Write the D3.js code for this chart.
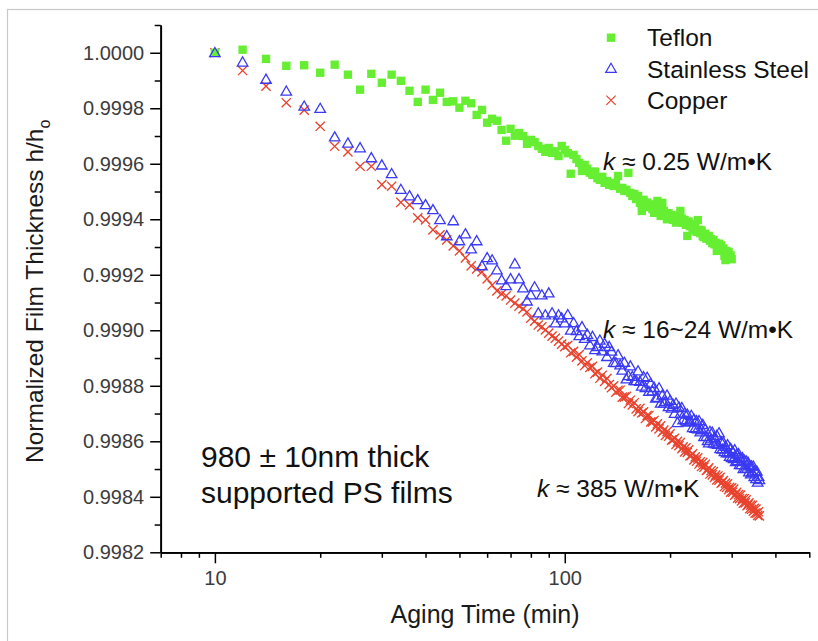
<!DOCTYPE html>
<html>
<head>
<meta charset="utf-8">
<script src="https://cdn.jsdelivr.net/npm/d3@7"></script>
<style>
  body { margin: 0; background: #ffffff; }
  svg { display: block; font-family: Arial, "Liberation Sans", sans-serif; }
</style>
</head>
<body>
<svg id="chart" width="818" height="641"></svg>
<script>

//// DATA

// Aging time (min), one point every 2 minutes
var agingTime = [
  10, 12, 14, 16, 18, 20, 22, 24, 26, 28, 30, 32, 34, 36, 38, 40, 42, 44, 46, 48,
  50, 52, 54, 56, 58, 60, 62, 64, 66, 68, 70, 72, 74, 76, 78, 80, 82, 84, 86, 88,
  90, 92, 94, 96, 98, 100, 102, 104, 106, 108, 110, 112, 114, 116, 118, 120, 122, 124, 126, 128,
  130, 132, 134, 136, 138, 140, 142, 144, 146, 148, 150, 152, 154, 156, 158, 160, 162, 164, 166, 168,
  170, 172, 174, 176, 178, 180, 182, 184, 186, 188, 190, 192, 194, 196, 198, 200, 202, 204, 206, 208,
  210, 212, 214, 216, 218, 220, 222, 224, 226, 228, 230, 232, 234, 236, 238, 240, 242, 244, 246, 248,
  250, 252, 254, 256, 258, 260, 262, 264, 266, 268, 270, 272, 274, 276, 278, 280, 282, 284, 286, 288,
  290, 292, 294, 296, 298, 300, 302, 304, 306, 308, 310, 312, 314, 316, 318, 320, 322, 324, 326, 328,
  330, 332, 334, 336, 338, 340, 342, 344, 346, 348, 350, 352, 354, 356, 358, 360
];

// Normalized thickness h/ho, Teflon substrate (10 to 300 min)
var teflon = [
  1.000000, 1.000011, 0.999978, 0.999953, 0.999955, 0.999928, 0.999957, 0.999921, 0.999867, 0.999924,
  0.999892, 0.999921, 0.999899, 0.999863, 0.999823, 0.999867, 0.999830, 0.999856, 0.999823, 0.999825,
  0.999802, 0.999827, 0.999818, 0.999776, 0.999794, 0.999748, 0.999762, 0.999755, 0.999722, 0.999683,
  0.999726, 0.999701, 0.999711, 0.999700, 0.999672, 0.999686, 0.999678, 0.999664, 0.999654, 0.999643,
  0.999657, 0.999639, 0.999645, 0.999628, 0.999664, 0.999650, 0.999638, 0.999564, 0.999632, 0.999617,
  0.999603, 0.999574, 0.999596, 0.999582, 0.999568, 0.999560, 0.999572, 0.999548, 0.999542, 0.999553,
  0.999531, 0.999538, 0.999524, 0.999530, 0.999520, 0.999531, 0.999556, 0.999510, 0.999513, 0.999502,
  0.999506, 0.999567, 0.999495, 0.999484, 0.999491, 0.999473, 0.999484, 0.999459, 0.999430, 0.999470,
  0.999448, 0.999460, 0.999444, 0.999452, 0.999437, 0.999423, 0.999455, 0.999466, 0.999440, 0.999412,
  0.999459, 0.999430, 0.999417, 0.999400, 0.999422, 0.999408, 0.999415, 0.999398, 0.999404, 0.999388,
  0.999412, 0.999394, 0.999430, 0.999402, 0.999387, 0.999398, 0.999380, 0.999340, 0.999392, 0.999375,
  0.999382, 0.999364, 0.999360, 0.999372, 0.999355, 0.999397, 0.999362, 0.999350, 0.999360, 0.999339,
  0.999336, 0.999348, 0.999330, 0.999333, 0.999340, 0.999323, 0.999328, 0.999314, 0.999325, 0.999310,
  0.999315, 0.999286, 0.999305, 0.999312, 0.999300, 0.999306, 0.999288, 0.999295, 0.999268, 0.999253,
  0.999286, 0.999275, 0.999282, 0.999265, 0.999270, 0.999256
];

// Stainless steel substrate (10 to 360 min)
var stainless = [
  1.000000, 0.999966, 0.999904, 0.999861, 0.999807, 0.999799, 0.999696, 0.999674, 0.999657, 0.999621,
  0.999595, 0.999564, 0.999507, 0.999484, 0.999470, 0.999452, 0.999434, 0.999398, 0.999340, 0.999394,
  0.999322, 0.999347, 0.999293, 0.999322, 0.999232, 0.999261, 0.999253, 0.999217, 0.999181, 0.999160,
  0.999185, 0.999239, 0.999185, 0.999152, 0.999105, 0.999127, 0.999156, 0.999062, 0.999127, 0.999055,
  0.999134, 0.999062, 0.999026, 0.999055, 0.999044, 0.999026, 0.999056, 0.999000, 0.999027, 0.998998,
  0.998980, 0.999012, 0.998970, 0.998985, 0.998947, 0.998977, 0.998930, 0.998941, 0.998964, 0.998925,
  0.998952, 0.998905, 0.998941, 0.998924, 0.998884, 0.998883, 0.998911, 0.998875, 0.998856, 0.998884,
  0.998824, 0.998836, 0.998871, 0.998833, 0.998818, 0.998818, 0.998853, 0.998815, 0.998798, 0.998832,
  0.998793, 0.998830, 0.998779, 0.998808, 0.998781, 0.998794, 0.998755, 0.998758, 0.998792, 0.998737,
  0.998766, 0.998737, 0.998743, 0.998766, 0.998724, 0.998747, 0.998719, 0.998732, 0.998700, 0.998737,
  0.998667, 0.998723, 0.998699, 0.998721, 0.998677, 0.998701, 0.998673, 0.998697, 0.998669, 0.998671,
  0.998693, 0.998649, 0.998679, 0.998646, 0.998674, 0.998644, 0.998674, 0.998633, 0.998641, 0.998660,
  0.998616, 0.998643, 0.998617, 0.998602, 0.998594, 0.998635, 0.998608, 0.998632, 0.998593, 0.998613,
  0.998590, 0.998621, 0.998588, 0.998630, 0.998573, 0.998598, 0.998571, 0.998596, 0.998562, 0.998581,
  0.998558, 0.998587, 0.998558, 0.998545, 0.998574, 0.998541, 0.998562, 0.998537, 0.998569, 0.998526,
  0.998553, 0.998530, 0.998555, 0.998515, 0.998538, 0.998515, 0.998540, 0.998501, 0.998531, 0.998502,
  0.998529, 0.998502, 0.998524, 0.998489, 0.998511, 0.998482, 0.998511, 0.998487, 0.998510, 0.998472,
  0.998493, 0.998465, 0.998492, 0.998452, 0.998473, 0.998461
];

// Copper substrate (10 to 360 min)
var copper = [
  1.000000, 0.999936, 0.999880, 0.999820, 0.999793, 0.999735, 0.999663, 0.999643, 0.999591, 0.999591,
  0.999525, 0.999519, 0.999461, 0.999452, 0.999405, 0.999398, 0.999362, 0.999344, 0.999326, 0.999304,
  0.999286, 0.999261, 0.999232, 0.999221, 0.999210, 0.999185, 0.999163, 0.999142, 0.999131, 0.999124,
  0.999109, 0.999098, 0.999087, 0.999077, 0.999066, 0.999044, 0.999033, 0.999019, 0.999012, 0.999001,
  0.998990, 0.998979, 0.998972, 0.998961, 0.998950, 0.998941, 0.998946, 0.998919, 0.998924, 0.998903,
  0.998912, 0.998890, 0.998873, 0.998883, 0.998866, 0.998870, 0.998844, 0.998849, 0.998827, 0.998838,
  0.998816, 0.998827, 0.998804, 0.998793, 0.998800, 0.998777, 0.998784, 0.998784, 0.998759, 0.998759,
  0.998762, 0.998736, 0.998748, 0.998731, 0.998739, 0.998717, 0.998707, 0.998719, 0.998702, 0.998706,
  0.998682, 0.998693, 0.998693, 0.998670, 0.998670, 0.998675, 0.998652, 0.998663, 0.998645, 0.998656,
  0.998633, 0.998640, 0.998621, 0.998635, 0.998618, 0.998627, 0.998604, 0.998606, 0.998611, 0.998589,
  0.998600, 0.998584, 0.998595, 0.998573, 0.998580, 0.998562, 0.998576, 0.998560, 0.998569, 0.998547,
  0.998549, 0.998555, 0.998533, 0.998544, 0.998528, 0.998540, 0.998518, 0.998526, 0.998509, 0.998523,
  0.998507, 0.998517, 0.998495, 0.998498, 0.998504, 0.998482, 0.998494, 0.998479, 0.998491, 0.998470,
  0.998478, 0.998461, 0.998475, 0.998460, 0.998470, 0.998449, 0.998452, 0.998458, 0.998437, 0.998449,
  0.998434, 0.998447, 0.998426, 0.998434, 0.998417, 0.998432, 0.998417, 0.998428, 0.998406, 0.998409,
  0.998416, 0.998395, 0.998408, 0.998393, 0.998406, 0.998385, 0.998394, 0.998377, 0.998393, 0.998378,
  0.998389, 0.998368, 0.998371, 0.998378, 0.998357, 0.998370, 0.998355, 0.998369, 0.998348, 0.998358,
  0.998341, 0.998356, 0.998341, 0.998333, 0.998346, 0.998331
];

// Series names, legend order
var seriesNames = ["Teflon", "Stainless Steel", "Copper"];

// Axis ticks
var yMajorTicks = [0.9982, 0.9984, 0.9986, 0.9988, 0.9990, 0.9992, 0.9994, 0.9996, 0.9998, 1.0000];
var yMinorTicks = [0.9983, 0.9985, 0.9987, 0.9989, 0.9991, 0.9993, 0.9995, 0.9997, 0.9999, 1.0001];
var xMajorTicks = [10, 100];
var xMinorTicks = [7, 8, 9, 20, 30, 40, 50, 60, 70, 80, 90, 200, 300, 400, 500];


//// MAIN

var svg = d3.select("#chart");

// light frame round the figure
svg.append("rect")
    .attr("x", 7.5).attr("y", 9.5)
    .attr("width", 900).attr("height", 700)
    .attr("fill", "#ffffff")
    .attr("stroke", "#c8c8c8")
    .attr("stroke-width", 1.2);

// Scales
var x = d3.scaleLog().domain([7, 500]).range([160.7, 809.3]);
var y = d3.scaleLinear().domain([0.9982, 1.0001]).range([552.3, 25]);

var colors = {
    "Teflon": "#66ee33",
    "Stainless Steel": "#3a3af5",
    "Copper": "#e8432e"
};

var symSquare = d3.symbol(d3.symbolSquare, 70)();
var symTriangle = d3.symbol(d3.symbolTriangle, 48)();
var symCross = "M-4.6,-4.6L4.6,4.6M-4.6,4.6L4.6,-4.6";

// Build point lists from the arrays
function makePoints(values){
    var pts = [];
    for (var i = 0; i < values.length; i++){
        pts.push({ t: agingTime[i], v: values[i] });
    }
    return pts;
}

var plot = svg.append("g");

// Copper (x)
plot.append("g").selectAll("path")
    .data(makePoints(copper))
    .enter().append("path")
    .attr("d", symCross)
    .attr("transform", function(d){ return "translate(" + x(d.t) + "," + y(d.v) + ")"; })
    .attr("fill", "none")
    .attr("stroke", colors["Copper"])
    .attr("stroke-width", 1.35);

// Teflon (filled squares)
plot.append("g").selectAll("path")
    .data(makePoints(teflon))
    .enter().append("path")
    .attr("d", symSquare)
    .attr("transform", function(d){ return "translate(" + x(d.t) + "," + y(d.v) + ")"; })
    .attr("fill", colors["Teflon"]);

// Stainless (open triangles)
plot.append("g").selectAll("path")
    .data(makePoints(stainless))
    .enter().append("path")
    .attr("d", symTriangle)
    .attr("transform", function(d){ return "translate(" + x(d.t) + "," + (y(d.v) + 0.8) + ")"; })
    .attr("fill", "none")
    .attr("stroke", colors["Stainless Steel"])
    .attr("stroke-width", 1.3);


//// AXES

function styleAxis(g){
    g.attr("font-family", "Arial, 'Liberation Sans', sans-serif");
    g.selectAll(".domain").attr("stroke", "#000").attr("stroke-width", 1.7);
    g.selectAll(".tick line").attr("stroke", "#000").attr("stroke-width", 1.5);
    g.selectAll(".tick text").attr("fill", "#3c3c3c").attr("font-size", "20px");
}

// Y axis
svg.append("g")
    .attr("transform", "translate(160.7,0)")
    .call(d3.axisLeft(y).tickValues(yMinorTicks).tickSize(6).tickSizeOuter(0).tickFormat(""))
    .call(styleAxis);
svg.append("g")
    .attr("transform", "translate(160.7,0)")
    .call(d3.axisLeft(y).tickValues(yMajorTicks).tickSize(10.5).tickSizeOuter(0).tickPadding(6)
        .tickFormat(d3.format(".4f")))
    .call(styleAxis);

// X axis
svg.append("g")
    .attr("transform", "translate(0,552.3)")
    .call(d3.axisBottom(x).tickValues(xMinorTicks).tickSize(5.5).tickSizeOuter(0).tickFormat(""))
    .call(styleAxis);
svg.append("g")
    .attr("transform", "translate(0,552.3)")
    .call(d3.axisBottom(x).tickValues(xMajorTicks).tickSize(11).tickSizeOuter(0).tickPadding(8)
        .tickFormat(d3.format("d")))
    .call(styleAxis);

// Axis titles
svg.append("text")
    .attr("x", 485).attr("y", 623)
    .attr("text-anchor", "middle")
    .attr("font-size", "25px")
    .attr("fill", "#1a1a1a")
    .text("Aging Time (min)");

var yTitle = svg.append("text")
    .attr("transform", "translate(43,463) rotate(-90)")
    .attr("text-anchor", "start")
    .attr("font-size", "24.5px")
    .attr("fill", "#1a1a1a");
yTitle.append("tspan").text("Normalized Film Thickness h/h");
yTitle.append("tspan").attr("dy", 7).attr("font-size", "16px").text("o");


//// LEGEND

var legendSymbols = [symSquare, symTriangle, symCross];
var legendY = [37.7, 69.3, 100.3];

var legend = svg.append("g").selectAll("g")
    .data(seriesNames)
    .enter().append("g")
    .attr("transform", function(d, i){ return "translate(0," + legendY[i] + ")"; });

legend.append("path")
    .attr("transform", "translate(611,0)")
    .attr("d", function(d, i){ return legendSymbols[i]; })
    .attr("fill", function(d){ return d == "Teflon" ? colors[d] : "none"; })
    .attr("stroke", function(d){ return d == "Teflon" ? "none" : colors[d]; })
    .attr("stroke-width", 1.2);

legend.append("text")
    .attr("x", 647).attr("y", 8.6)
    .attr("font-size", "24.5px")
    .attr("fill", "#111")
    .text(function(d){ return d; });


//// ANNOTATIONS

function kLabel(xp, yp, rest){
    var t = svg.append("text")
        .attr("x", xp).attr("y", yp)
        .attr("font-size", "24.5px")
        .attr("fill", "#111");
    t.append("tspan").attr("font-style", "italic").text("k");
    t.append("tspan").text(rest);
}

kLabel(603, 170, " \u2248 0.25 W/m\u2022K");
kLabel(603, 338, " \u2248 16~24 W/m\u2022K");
kLabel(537, 497, " \u2248 385 W/m\u2022K");

svg.append("text")
    .attr("x", 201).attr("y", 467)
    .attr("font-size", "30px")
    .attr("fill", "#111")
    .text("980 \u00b1 10nm thick");
svg.append("text")
    .attr("x", 201).attr("y", 503)
    .attr("font-size", "30px")
    .attr("fill", "#111")
    .text("supported PS films");

</script>
</body>
</html>
